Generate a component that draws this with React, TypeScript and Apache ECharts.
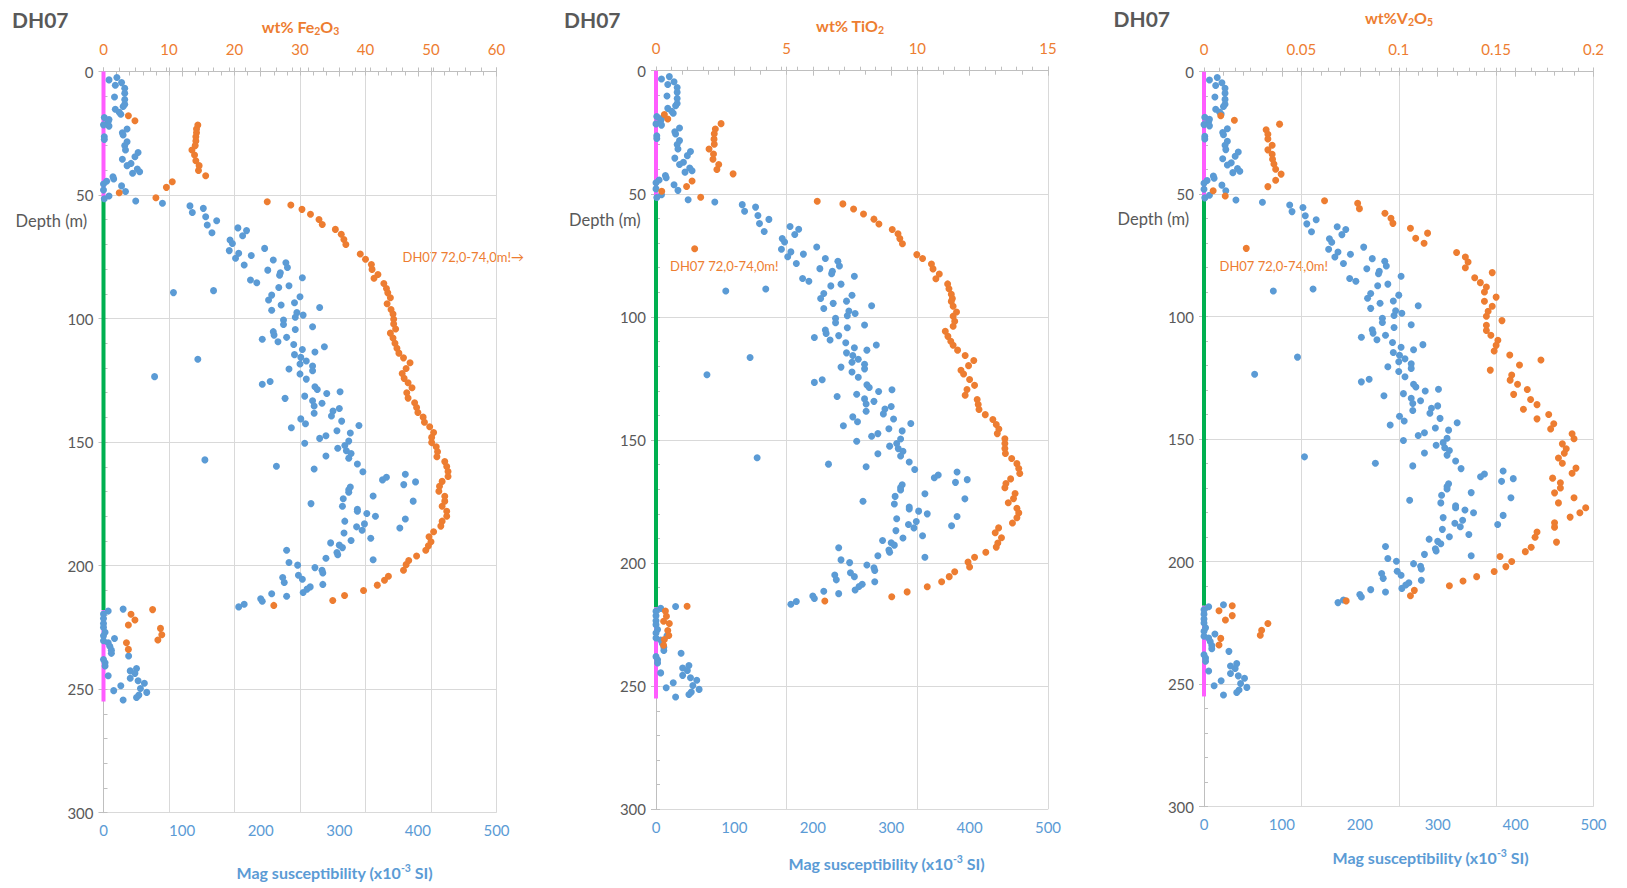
import React, { useEffect, useRef } from "react";
import * as echarts from "echarts";

// Magnetic susceptibility (x10^-3 SI) readings: [depth m, value]
const magSusceptibility: [number, number][] = [
  [2.4, 17], [3.4, 7], [4.5, 23], [5.6, 15], [6.8, 27], [8.8, 27], [10.3, 14], [11.3, 27],
  [13.3, 27], [14.2, 25], [15.3, 15], [16.5, 20], [17.3, 22], [18.6, 1], [19.4, 7], [20.3, 6],
  [21.6, 0], [22.1, 7], [23.3, 30], [24.8, 24], [25.7, 25], [26.4, 1], [27.5, 1], [28.4, 30],
  [30, 27], [31.8, 28], [32.8, 44], [34.5, 40], [35.5, 24], [37.2, 35], [38.1, 30], [39.5, 43],
  [40.6, 46], [41.2, 37], [42.6, 12], [43.5, 13], [44.4, 4], [45.5, 0], [46.3, 23], [48, 0],
  [48.6, 28], [50.4, 7], [51.5, 1], [52.4, 41], [53.3, 75],
  [54.4, 110], [55.4, 127], [57.1, 113], [58.8, 130], [60.4, 144], [62.1, 132], [63.3, 171],
  [64.4, 182], [65.3, 138], [66.5, 177], [68.2, 161], [69.6, 164], [71.6, 205], [72.5, 160],
  [73.6, 172], [74.5, 188], [75.6, 168], [76.3, 216], [77.4, 232], [78.3, 179], [79.3, 234],
  [80.4, 209], [81.5, 225], [82.5, 224], [83.5, 253], [84.4, 187], [85.5, 195], [86.7, 236],
  [87.4, 223], [88.7, 140], [89.5, 89], [90.5, 214], [91.2, 250], [92.5, 210], [93.6, 243],
  [94.5, 226], [95.5, 275], [96.6, 214], [97.6, 246], [98.6, 254], [99.5, 244], [100.6, 229],
  [102.4, 229], [103.3, 266], [104.4, 244], [105.3, 216], [106.7, 217], [107.6, 233], [108.4, 202],
  [109.4, 222], [110.5, 242], [111.4, 281], [112.5, 253], [113.5, 269], [114.6, 243], [115.7, 251],
  [116.5, 120], [117.2, 258], [118.4, 250], [119.2, 266], [120.4, 236], [121.1, 266], [122.4, 250],
  [123.5, 65], [124.5, 258], [125.5, 212], [126.6, 202], [127.6, 269], [128.7, 272], [129.6, 301],
  [130.3, 284], [131.4, 256], [132.3, 231], [133.3, 266], [134.3, 278], [135.4, 268], [136.4, 300],
  [137.4, 292], [138.3, 268], [139.4, 290], [140.6, 251], [141.5, 303], [142.6, 257], [143.3, 325],
  [144.2, 239], [145.4, 297], [146.3, 314], [147.4, 283], [148.5, 275], [149.6, 312], [150.5, 256],
  [151.4, 307], [152.5, 298], [153.5, 309], [154.6, 315], [155.6, 283], [156.5, 312], [157.2, 129],
  [158.9, 323], [159.8, 220], [160.9, 268], [162, 330], [163, 384], [164.2, 360], [165.3, 355],
  [166.1, 397], [167.2, 382], [168.2, 314], [169.3, 312], [170.3, 312], [171.8, 343], [172.9, 305],
  [173.9, 394], [174.9, 264], [176, 304], [177.2, 323], [178, 323], [178.9, 335], [180, 346],
  [181.1, 384], [182, 307], [183.1, 332], [184.3, 322], [184.8, 377], [185.7, 329], [186.8, 306],
  [188.9, 340], [189.8, 315], [190.8, 289], [191.7, 300], [192.7, 304], [193.8, 233], [194.7, 297],
  [195.6, 298], [197, 283], [197.6, 343], [198.7, 236], [199.8, 247], [200.8, 269], [201.9, 278],
  [203, 279], [203.9, 248], [204.8, 228], [205.5, 253], [206.8, 230], [207.6, 279], [208.6, 263],
  [209.5, 259], [210.9, 254], [211.4, 214], [212.4, 233], [213.4, 200], [214.4, 202], [215.6, 179],
  [216.7, 172],
  [217.6, 25], [218.4, 6], [219.6, 0], [221.4, 0], [223.4, 0], [225, 0], [227, 2], [228.4, 0],
  [229.5, 14], [230.4, 0], [231.2, 6], [232.6, 8], [234.2, 10], [235.5, 10], [236.6, 32], [238, 0],
  [239.3, 2], [240.6, 2], [241.6, 42], [242.6, 34], [243.6, 40], [244.6, 6], [245.6, 34], [246.6, 44],
  [247.6, 52], [248.6, 22], [249.7, 47], [250.6, 13], [251.3, 55], [252.4, 45], [253.4, 42], [254.4, 25],
];

// Assays, wt% Fe2O3: [depth m, value]
const fe2o3Pct: [number, number][] = [
  [17.9, 3.8], [19.9, 4.8], [21.7, 14.4], [23.3, 14.2], [24.8, 14.2], [26.4, 14.1], [28.1, 14.1],
  [30, 14], [31.8, 13.5], [33.8, 13.9], [36.1, 14.1], [38.1, 14.6], [40.1, 14.5], [42.2, 15.6],
  [44.6, 10.5], [46.9, 9.6], [49.1, 2.4], [51.1, 8],
  [52.7, 25], [54, 28.6], [55.8, 30.3], [57.8, 31.6], [59.9, 32.9], [61.9, 33.4], [63.9, 35.4],
  [65.9, 36.3], [68, 36.7], [70, 37], [73.9, 39.2], [76, 40], [78.1, 40.9], [80.1, 41], [82.2, 41.9],
  [83.7, 41.3], [85.8, 42.8], [87.8, 43.2], [89.6, 43.4], [91.6, 43.8], [94, 43.3], [96.3, 43.9],
  [98.2, 44.2], [100.3, 44.3], [102.2, 44.3], [104.2, 44.6], [105.9, 43.8], [107.9, 44.2], [110, 44.5],
  [112, 44.8], [114, 45.1], [115.9, 45.8], [117.9, 46.8], [120.2, 46.2], [122.2, 45.6], [124.2, 45.9],
  [126, 46.5], [128, 47.1], [130, 46.3], [132.2, 46.5], [134.1, 47.5], [136, 47.8], [138, 48],
  [139.9, 48.8], [142, 49], [143.8, 49.8], [146.1, 50.4], [148.1, 50.1], [150.2, 50.1], [151.9, 50.8],
  [153.9, 51], [155.9, 50.9], [157.9, 52.1], [159.9, 52.4], [161.9, 52.6], [163.9, 52.6], [165.9, 51.7],
  [167.9, 51.3], [169.9, 51.2], [171.9, 52.1], [173.9, 52.1], [176, 51.7], [178, 52.4], [180, 52.4],
  [182, 51.7], [184, 51.5], [186.3, 50.4], [188.3, 49.7], [190.3, 50], [192, 49.6], [193.8, 49.2],
  [196.1, 47.8], [197.9, 46.6], [199.6, 46.2], [201.9, 45.8], [204.3, 43.5], [205.9, 42.9],
  [207.9, 41.8], [210.1, 39.7], [212.1, 36.8], [214.1, 35], [216.1, 26],
  [217.8, 7.5], [219.7, 4.2], [222, 4.8], [224, 3.8], [225.4, 8.7], [228, 8.9], [230.1, 8.3],
  [231.2, 3.5], [233.9, 3.8],
];

// Assays, wt% TiO2: [depth m, value]
const tio2Pct: [number, number][] = [
  [17.8, 0.32], [19.6, 0.45], [21.5, 2.49], [23.7, 2.27], [25.6, 2.23], [27.8, 2.22], [29.9, 2.23],
  [31.8, 2.03], [33.8, 2.2], [36, 2.18], [38.1, 2.4], [40.1, 2.33], [41.9, 2.95], [44.8, 1.38],
  [47, 1.17], [49, 0.22], [51.4, 1.71],
  [53, 6.17], [54.1, 7.15], [56.2, 7.56], [58.2, 7.94], [60.3, 8.34], [62.3, 8.53], [64.5, 9.04],
  [66.2, 9.26], [68.2, 9.33], [70.3, 9.43], [72.3, 1.48], [74.7, 9.98], [76.3, 10.2], [78.5, 10.54],
  [80.5, 10.6], [82.6, 10.84], [84.5, 10.71], [86.6, 11.16], [88.6, 11.21], [90.8, 11.3], [92.5, 11.34],
  [93.7, 11.3], [95.7, 11.37], [98, 11.5], [99.7, 11.37], [101.8, 11.43], [103.8, 11.37], [105.8, 11.07],
  [107.9, 11.17], [109.9, 11.28], [111.5, 11.37], [113.5, 11.54], [115.7, 11.83], [117.7, 12.16],
  [119.8, 11.96], [121.7, 11.67], [123.2, 11.77], [125.4, 12], [127.8, 12.19], [129.5, 11.9],
  [131.8, 11.83], [133.6, 12.29], [135.6, 12.33], [137.6, 12.36], [139.7, 12.6], [141.7, 12.89],
  [143.7, 13.02], [145.5, 13.12], [147.4, 13.06], [149.5, 13.35], [151.4, 13.35], [153.5, 13.35],
  [155.5, 13.37], [157.5, 13.61], [159.6, 13.81], [161.6, 13.88], [163.6, 13.92], [165.8, 13.57],
  [167.7, 13.39], [169.4, 13.35], [171.7, 13.74], [173.8, 13.68], [175.5, 13.48], [177.7, 13.81],
  [179.6, 13.88], [181.6, 13.81], [183.7, 13.64], [185.7, 13.11], [187.7, 12.98], [189.7, 13.22],
  [191.8, 13.08], [193.5, 13.02], [195.6, 12.62], [197.6, 12.19], [199.6, 11.94], [201.6, 12],
  [203.5, 11.43], [205.5, 11.22], [207.6, 10.93], [209.6, 10.38], [211.7, 9.61], [213.7, 9.02],
  [215.4, 6.46],
  [217.5, 1.19], [219.5, 0.36], [221.6, 0.4], [223.6, 0.29], [224.5, 0.51], [227.4, 0.45],
  [229.4, 0.49], [231, 0.32], [233.4, 0.29],
];

// Assays, wt% V2O5: [depth m, value]
const v2o5Pct: [number, number][] = [
  [18, 0.0086], [19.8, 0.0156], [21.4, 0.0388], [23.7, 0.0319], [25.5, 0.0328], [27.5, 0.0328],
  [30, 0.035], [31.9, 0.0328], [33.7, 0.035], [35.7, 0.0352], [37.7, 0.0359], [39.8, 0.0368],
  [41.8, 0.0396], [44.3, 0.0368], [46.9, 0.0328], [48.6, 0.0047], [50.7, 0.0109],
  [52.7, 0.0619], [53.7, 0.0789], [55.9, 0.0798], [57.8, 0.0929], [59.8, 0.096], [61.9, 0.097],
  [63.9, 0.106], [65.9, 0.1148], [68, 0.1087], [70, 0.113], [72.1, 0.0217], [73.8, 0.1297],
  [75.6, 0.1342], [77.7, 0.1356], [80, 0.1342], [82, 0.148], [84.1, 0.139], [86.1, 0.1419],
  [87.9, 0.145], [89.9, 0.144], [92, 0.15], [93.7, 0.144], [95.7, 0.148], [97.8, 0.1459],
  [99.8, 0.145], [101.6, 0.153], [103.5, 0.145], [105.6, 0.145], [107.6, 0.1473], [109.6, 0.1509],
  [111.7, 0.15], [114, 0.149], [115.6, 0.157], [117.7, 0.173], [119.7, 0.162], [121.8, 0.147],
  [123.8, 0.158], [125.9, 0.1572], [127.6, 0.161], [129.7, 0.166], [131.7, 0.159], [133.8, 0.1677],
  [135.9, 0.171], [137.8, 0.164], [139.9, 0.177], [141.7, 0.171], [143.7, 0.1796], [145.8, 0.178],
  [147.8, 0.189], [149.8, 0.19], [151.9, 0.184], [153.9, 0.186], [155.7, 0.185], [157.7, 0.182],
  [159.8, 0.184], [161.8, 0.191], [163.9, 0.189], [165.9, 0.179], [167.8, 0.183], [169.9, 0.183],
  [171.9, 0.18], [173.9, 0.19], [176, 0.182], [178, 0.196], [180, 0.193], [181.8, 0.188],
  [184.1, 0.18], [185.9, 0.18], [187.9, 0.171], [190, 0.17], [192, 0.181], [194.1, 0.168],
  [195.9, 0.165], [197.9, 0.152], [199.9, 0.158], [202, 0.155], [204, 0.149], [206.1, 0.14],
  [207.9, 0.133], [209.8, 0.126], [211.7, 0.108], [213.9, 0.106], [216, 0.073],
  [218, 0.0145], [220, 0.0077], [222, 0.0145], [223.8, 0.011], [225.2, 0.0328], [228, 0.0296],
  [230, 0.0289], [231.3, 0.0086], [234, 0.0077],
];

// Lithology strip along the collar line: [from m, to m, unit]
const lithology: [number, number, string][] = [
  [0, 52, "upper"],
  [52, 218, "ore"],
  [218, 255, "lower"],
];

const magTicks = [0, 100, 200, 300, 400, 500];
const depthTicks = [0, 50, 100, 150, 200, 250, 300];

const BLUE = "#5B9BD5";
const ORANGE = "#ED7D31";
const GREY_TEXT = "#595959";
const AXIS_GREY = "#BFBFBF";
const GRID_GREY = "#D9D9D9";
const FONT = "Lato, 'Open Sans', sans-serif";
const LITHO_COLOR: Record<string, string> = { upper: "#FF5CFF", ore: "#00B050", lower: "#FF5CFF" };

type Panel = {
  data: [number, number][];
  max: number;
  step: number;
  minor: number;
  oxideLabel: string;
  rect: { left: number; top: number; width: number; height: number };
  oxideTitle: { x: number; y: number };
  magTitle: { x: number; y: number };
  hole: { x: number; y: number };
  depthLabel: { x: number; y: number };
  note: { x: number; y: number; text: string };
};

const panels: Panel[] = [
  {
    data: fe2o3Pct, max: 60, step: 10, minor: 2,
    oxideLabel: "{a|wt% Fe}{s|2}{a|O}{s|3}",
    rect: { left: 103.5, top: 71.5, width: 393, height: 741.2 },
    oxideTitle: { x: 300.5, y: 26 },
    magTitle: { x: 334.5, y: 872 },
    hole: { x: 12, y: 19.5 },
    depthLabel: { x: 15.5, y: 221 },
    note: { x: 402.5, y: 256.5, text: "DH07 72,0-74,0m!\u2192" },
  },
  {
    data: tio2Pct, max: 15, step: 5, minor: 1,
    oxideLabel: "{a|wt% TiO}{s|2}",
    rect: { left: 656, top: 70.7, width: 392, height: 738.6 },
    oxideTitle: { x: 850, y: 25 },
    magTitle: { x: 886.5, y: 863 },
    hole: { x: 564, y: 19 },
    depthLabel: { x: 569, y: 220 },
    note: { x: 670, y: 266, text: "DH07 72,0-74,0m!" },
  },
  {
    data: v2o5Pct, max: 0.2, step: 0.05, minor: 0.01,
    oxideLabel: "{a|wt%V}{s|2}{a|O}{s|5}",
    rect: { left: 1204, top: 71.7, width: 389.5, height: 735 },
    oxideTitle: { x: 1399, y: 17.5 },
    magTitle: { x: 1430.5, y: 857 },
    hole: { x: 1113.5, y: 18.5 },
    depthLabel: { x: 1117.5, y: 219 },
    note: { x: 1219.5, y: 266, text: "DH07 72,0-74,0m!" },
  },
];

function buildOption() {
  const grid: any[] = [];
  const xAxis: any[] = [];
  const yAxis: any[] = [];
  const series: any[] = [];
  const graphic: any[] = [];
  const magMax = magTicks[magTicks.length - 1];
  const magStep = magTicks[1] - magTicks[0];
  const depthMax = depthTicks[depthTicks.length - 1];
  const depthStep = depthTicks[1] - depthTicks[0];

  const axisLine = { show: true, lineStyle: { color: AXIS_GREY, width: 1 } };
  const tickStyle = { color: AXIS_GREY, width: 1 };
  const label = (color: string, margin: number) => ({
    color, fontSize: 15, fontFamily: FONT, margin,
  });

  panels.forEach((p, i) => {
    const gMain = 2 * i;
    const gMinor = 2 * i + 1;
    grid.push({ ...p.rect, containLabel: false });
    grid.push({ ...p.rect, containLabel: false });

    const xMag = xAxis.length;
    // main bottom axis: magnetic susceptibility
    xAxis.push({
      type: "value", gridIndex: gMain, position: "bottom", min: 0, max: magMax, interval: magStep,
      axisLine, axisTick: { show: true, length: 5, lineStyle: tickStyle },
      axisLabel: label(BLUE, 10), splitLine: { show: false },
    });
    const xOx = xAxis.length;
    // main top axis: assay grade, with vertical gridlines
    xAxis.push({
      type: "value", gridIndex: gMain, position: "top", min: 0, max: p.max, interval: p.step,
      axisLine, axisTick: { show: true, length: 4, lineStyle: tickStyle },
      axisLabel: label(ORANGE, 15),
      splitLine: { show: true, lineStyle: { color: GRID_GREY, width: 1 } },
    });
    // minor ticks pointing inward
    xAxis.push({
      type: "value", gridIndex: gMinor, position: "bottom", min: 0, max: magMax, interval: magStep / 5,
      axisLine: { show: false }, axisTick: { show: true, inside: true, length: 4, lineStyle: tickStyle },
      axisLabel: { show: false }, splitLine: { show: false },
    });
    xAxis.push({
      type: "value", gridIndex: gMinor, position: "top", min: 0, max: p.max, interval: p.minor,
      axisLine: { show: false }, axisTick: { show: true, inside: true, length: 4, lineStyle: tickStyle },
      axisLabel: { show: false }, splitLine: { show: false },
    });

    const yMain = yAxis.length;
    yAxis.push({
      type: "value", gridIndex: gMain, position: "left", inverse: true, min: 0, max: depthMax,
      interval: depthStep, axisLine, axisTick: { show: true, length: 5, lineStyle: tickStyle },
      axisLabel: label(GREY_TEXT, 10),
      splitLine: { show: true, lineStyle: { color: GRID_GREY, width: 1 } },
    });
    yAxis.push({
      type: "value", gridIndex: gMinor, position: "left", inverse: true, min: 0, max: depthMax,
      interval: depthStep / 5, axisLine: { show: false },
      axisTick: { show: true, inside: true, length: 4, lineStyle: tickStyle },
      axisLabel: { show: false }, splitLine: { show: false },
    });

    lithology.forEach(([from, to, unit]) => {
      series.push({
        type: "line", xAxisIndex: xMag, yAxisIndex: yMain, z: 1,
        data: [[0, from], [0, to]], symbol: "none", silent: true,
        lineStyle: { color: LITHO_COLOR[unit], width: 4, cap: "butt" },
      });
    });

    series.push({
      name: "Mag susceptibility", type: "scatter", xAxisIndex: xMag, yAxisIndex: yMain, z: 2,
      symbolSize: 7, itemStyle: { color: BLUE, opacity: 1 },
      data: magSusceptibility.map(([d, v]) => [v, d]),
    });
    series.push({
      name: "Assay", type: "scatter", xAxisIndex: xOx, yAxisIndex: yMain, z: 3,
      symbolSize: 7, itemStyle: { color: ORANGE, opacity: 1 },
      data: p.data.map(([d, v]) => [v, d]),
    });

    graphic.push(
      {
        type: "text", x: p.hole.x, y: p.hole.y,
        style: {
          text: "DH07", fill: GREY_TEXT, fontSize: 21, fontWeight: "bold", fontFamily: FONT,
          align: "left", verticalAlign: "middle", textAlign: "left", textVerticalAlign: "middle",
        },
      },
      {
        type: "text", x: p.depthLabel.x, y: p.depthLabel.y,
        style: {
          text: "Depth (m)", fill: GREY_TEXT, fontSize: 16.5, fontFamily: FONT,
          align: "left", verticalAlign: "middle", textAlign: "left", textVerticalAlign: "middle",
        },
      },
      {
        type: "text", x: p.oxideTitle.x, y: p.oxideTitle.y,
        style: {
          text: p.oxideLabel,
          align: "center", verticalAlign: "middle", textAlign: "center", textVerticalAlign: "middle",
          rich: {
            a: { fill: ORANGE, color: ORANGE, fontSize: 16, fontWeight: "bold", fontFamily: FONT, lineHeight: 20 },
            s: {
              fill: ORANGE, color: ORANGE, fontSize: 10.5, fontWeight: "bold", fontFamily: FONT,
              lineHeight: 11, verticalAlign: "bottom",
            },
          },
        },
      },
      {
        type: "text", x: p.magTitle.x, y: p.magTitle.y,
        style: {
          text: "{a|Mag susceptibility (x10}{p|-3}{a| SI)}",
          align: "center", verticalAlign: "middle", textAlign: "center", textVerticalAlign: "middle",
          rich: {
            a: { fill: BLUE, color: BLUE, fontSize: 16, fontWeight: "bold", fontFamily: FONT, lineHeight: 20 },
            p: {
              fill: BLUE, color: BLUE, fontSize: 10.5, fontWeight: "bold", fontFamily: FONT,
              lineHeight: 11, verticalAlign: "top",
            },
          },
        },
      },
      {
        type: "text", x: p.note.x, y: p.note.y,
        style: {
          text: p.note.text, fill: ORANGE, fontSize: 13, fontFamily: FONT,
          align: "left", verticalAlign: "middle", textAlign: "left", textVerticalAlign: "middle",
        },
      }
    );
  });

  return {
    animation: false,
    backgroundColor: "#ffffff",
    textStyle: { fontFamily: FONT },
    grid, xAxis, yAxis, series, graphic,
  };
}

export default function App() {
  const ref = useRef<HTMLDivElement>(null);
  useEffect(() => {
    if (!ref.current) return;
    const chart = echarts.init(ref.current, undefined, { renderer: "svg" });
    chart.setOption(buildOption());
    return () => chart.dispose();
  }, []);
  return (
    <div
      ref={ref}
      style={{ position: "fixed", left: 0, top: 0, width: 1627, height: 888, background: "#fff" }}
    />
  );
}
